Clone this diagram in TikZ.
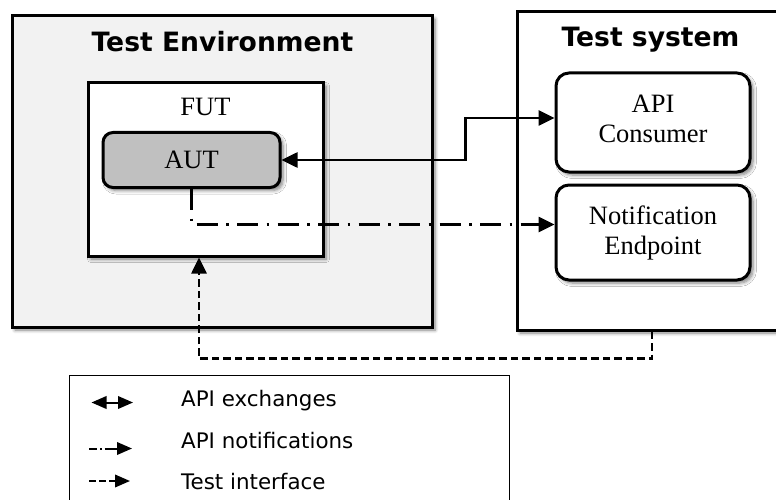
\documentclass[tikz,border=0pt]{standalone}
\usepackage{fontspec}
\setmainfont{Liberation Serif}
\newfontfamily\dejavu{DejaVu Sans}
\usetikzlibrary{arrows.meta,shadows.blur}
\definecolor{envfill}{HTML}{F2F2F2}
\definecolor{autfill}{HTML}{C0C0C0}
\tikzset{
  myshadow/.style={blur shadow={shadow xshift=3pt, shadow yshift=-3pt, shadow blur radius=3.5pt, shadow blur steps=6, shadow opacity=50}},
  bigbox/.style={draw, line width=3pt, myshadow, inner sep=0pt},
  roundbox/.style={bigbox, rounded corners=13pt, fill=white, align=center,
    font=\fontsize{26.5}{30}\selectfont},
  titletext/.style={anchor=base, inner sep=0pt, font=\dejavu\bfseries\fontsize{26.6}{30}\selectfont},
  serifname/.style={anchor=base, inner sep=0pt, font=\fontsize{26.5}{30}\selectfont},
  legtext/.style={anchor=base west, inner sep=0pt, font=\dejavu\fontsize{21.4}{24}\selectfont},
  bigtip/.tip={Triangle[length=16pt,width=15pt]},
  smalltip/.tip={Triangle[length=15pt,width=12.5pt]},
  conn/.style={line width=2.6pt},
  legline/.style={line width=2pt},
}
\begin{document}
\begin{tikzpicture}[x=1pt,y=-1pt]
\clip (0,0) rectangle (776,500);
% containers
\node[bigbox, fill=envfill, minimum width=420pt, minimum height=311pt] (env) at (222,171.5) {};
\node[titletext] (envtitle) at (222.5,52) {Test Environment};
\node[bigbox, fill=white, minimum width=270pt, minimum height=318pt] (sys) at (652,171) {};
\node[titletext] (systitle) at (650.5,47) {Test system};
\node[bigbox, fill=white, minimum width=235pt, minimum height=173pt] (fut) at (205.5,169.5) {};
\node[serifname] (futtitle) at (205.5,115.7) {FUT};
% inner boxes
\node[roundbox, fill=autfill, rounded corners=10pt, minimum width=177pt, minimum height=55pt] (aut) at (191.5,160) {AUT};
\node[roundbox, minimum width=194pt, minimum height=99pt, text depth=7pt] (cons) at (653,122.5) {API\\Consumer};
\node[roundbox, minimum width=194pt, minimum height=95pt] (notif) at (653,232.5) {Notification\\Endpoint};
% connectors
\draw[conn, bigtip-bigtip] (aut.east) -- ++(184,0) |- ([yshift=4.5pt]cons.west);
\draw[conn, -bigtip, dash pattern=on 21pt off 8.5pt on 2.5pt off 8.5pt] (aut.south) |- ([yshift=8pt]notif.west);
\draw[conn, -bigtip, dash pattern=on 7.5pt off 4pt] (sys.south) -- ++(0,27) -| ([xshift=-6.5pt]fut.south);
% legend
\node[draw, line width=1pt, minimum width=440pt, minimum height=145pt, inner sep=0pt] (legend) at (289,447.5) {};
\draw[legline, smalltip-smalltip] (91.5,402.5) -- (133,402.5);
\draw[legline, -smalltip, dash pattern=on 8pt off 3pt on 1.5pt off 3pt on 40pt] (89,448.5) -- (132,448.5);
\draw[legline, -smalltip, dash pattern=on 7pt off 3pt] (89,481) -- (130,481);
\node[legtext] (leg1) at (181,406.5) {API exchanges};
\node[legtext] (leg2) at (181,448) {API notifications};
\node[legtext] (leg3) at (181,489) {Test interface};
\end{tikzpicture}
\end{document}
